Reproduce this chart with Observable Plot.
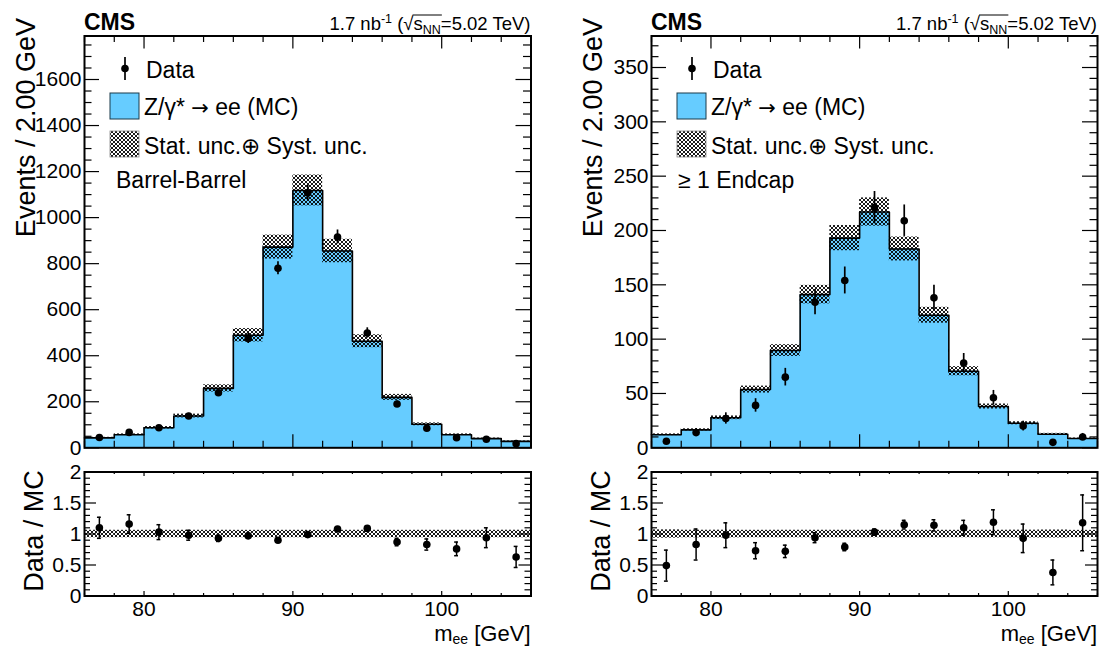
<!DOCTYPE html>
<html><head><meta charset="utf-8">
<script src="https://cdn.jsdelivr.net/npm/d3@7"></script>
<script src="https://cdn.jsdelivr.net/npm/@observablehq/plot@0.6"></script>
<style>
body{margin:0;background:#fff;}
#wrap{position:relative;width:1102px;height:646px;overflow:hidden;font-family:"Liberation Sans",Arial,Helvetica,sans-serif;}
#wrap svg{position:absolute;left:0;top:0;}
</style></head><body><div id="wrap"></div>
<script>
// ---------- data ----------
const binLo     = [76, 78, 80, 82, 84, 86, 88, 90, 92, 94, 96, 98, 100, 102, 104];
const binHi     = [78, 80, 82, 84, 86, 88, 90, 92, 94, 96, 98, 100, 102, 104, 106];
const binCenter = [77, 79, 81, 83, 85, 87, 89, 91, 93, 95, 97, 99, 101, 103, 105];

// Barrel-Barrel
const mcBB      = [43, 57, 87, 138, 258, 489, 872, 1118, 855, 463, 219, 102, 57, 40, 28];
const mcUncBB   = [2.6, 3.4, 5.2, 8.3, 15.5, 29, 52, 67, 51, 28, 13, 6.1, 3.4, 2.4, 1.7];
const dataBB    = [45, 67, 87, 138, 239, 475, 780, 1107, 916, 499, 190, 85, 44, 37, 18];
const dataErrBB = [6.7, 8.2, 9.3, 11.7, 15.5, 21.8, 27.9, 33.3, 30.3, 22.3, 13.8, 9.2, 6.6, 6.1, 4.2];
const ratioBB   = [1.10, 1.16, 1.03, 0.98, 0.93, 0.97, 0.90, 0.99, 1.08, 1.09, 0.87, 0.83, 0.76, 0.94, 0.63];
const ratioErrBB= [0.17, 0.15, 0.12, 0.08, 0.05, 0.04, 0.03, 0.03, 0.03, 0.04, 0.06, 0.09, 0.11, 0.16, 0.17];

// >= 1 Endcap
const mcEE      = [12, 16.5, 27.6, 53.6, 89.5, 141, 193, 217, 183, 122, 70.5, 38, 22.6, 12.5, 8.5];
const mcUncEE   = [0.8, 1.0, 1.7, 3.2, 5.4, 8.5, 11.6, 13, 11, 7.3, 4.2, 2.3, 1.4, 0.8, 0.5];
const dataEE    = [6, 14, 27, 39, 65, 134, 154, 221, 209, 138, 78, 46, 20, 5, 10];
const dataErrEE = [2.4, 3.7, 5.2, 6.2, 8.1, 11.6, 12.4, 14.9, 14.5, 11.7, 8.8, 6.8, 4.5, 2.2, 3.2];
const ratioEE   = [0.49, 0.83, 0.98, 0.73, 0.72, 0.94, 0.79, 1.03, 1.15, 1.14, 1.10, 1.19, 0.93, 0.38, 1.18];
const ratioErrEE= [0.25, 0.25, 0.20, 0.13, 0.10, 0.08, 0.06, 0.05, 0.07, 0.09, 0.12, 0.20, 0.23, 0.20, 0.45];

// axis ticks
const xMajor = [80, 90, 100];
const xMinor = [76, 78, 82, 84, 86, 88, 92, 94, 96, 98, 102, 104, 106];
const yTicksBB = [0, 200, 400, 600, 800, 1000, 1200, 1400, 1600];
const yTicksEE = [0, 50, 100, 150, 200, 250, 300, 350];
const rTicks = [0, 0.5, 1, 1.5, 2];

// ---------- layout ----------
const W = 1102, H = 646;
const XL = [84, 530.5], XR = [651, 1097];
const YMAIN = [35.5, 447.3], YRAT = [471.5, 595.5];
const FONT = '"Liberation Sans", Arial, Helvetica, sans-serif';
const BLUE = "#66ccff";

const bins = (mc, unc, data, err, ratio, rerr) => binLo.map((lo, i) => ({
  lo, hi: binHi[i], c: binCenter[i], mc: mc[i], unc: unc[i], data: data[i], err: err[i],
  ratio: ratio[i], rerr: rerr[i], rel: unc[i] / mc[i]
}));
const stepPts = (mc) => binLo.map((lo, i) => ({x: lo, y: mc[i]})).concat([{x: binHi[binHi.length - 1], y: mc[mc.length - 1]}]);

function tickMarks(xr, yr, xMaj, xMin, xMajLen, xMinLen, yMaj, yMin, yMajLen, yMinLen) {
  const iw = xr[1] - xr[0], ih = yr[1] - yr[0];
  const s = {stroke: "black", strokeWidth: 1.2};
  return [
    Plot.tickX(xMaj, {x: d => d, insetTop: ih - xMajLen, ...s}),
    Plot.tickX(xMaj, {x: d => d, insetBottom: ih - xMajLen, ...s}),
    Plot.tickX(xMin, {x: d => d, insetTop: ih - xMinLen, ...s}),
    Plot.tickX(xMin, {x: d => d, insetBottom: ih - xMinLen, ...s}),
    Plot.tickY(yMaj, {y: d => d, insetRight: iw - yMajLen, ...s}),
    Plot.tickY(yMaj, {y: d => d, insetLeft: iw - yMajLen, ...s}),
    Plot.tickY(yMin, {y: d => d, insetRight: iw - yMinLen, ...s}),
    Plot.tickY(yMin, {y: d => d, insetLeft: iw - yMinLen, ...s})
  ];
}

function frameOpts(xr, yr) {
  return {
    width: W, height: H,
    marginLeft: xr[0], marginRight: W - xr[1], marginTop: yr[0], marginBottom: H - yr[1],
    style: {fontFamily: FONT, fontSize: "21px", background: "transparent", color: "black", overflow: "visible"}
  };
}

function mainPanel(xr, b, mc, ymax, yMaj, yMinStep) {
  const yMin = d3.range(0, ymax, yMinStep).filter(v => !yMaj.includes(v));
  return Plot.plot({
    ...frameOpts(xr, YMAIN),
    x: {domain: [76, 106], axis: null, label: null},
    y: {domain: [0, ymax], label: null},
    marks: [
      Plot.areaY(stepPts(mc), {x: "x", y: "y", curve: "step-after", fill: BLUE}),
      Plot.line(stepPts(mc), {x: "x", y: "y", curve: "step-after", stroke: "black", strokeWidth: 1.6}),
      Plot.rect(b, {x1: "lo", x2: "hi", y1: d => d.mc - d.unc, y2: d => d.mc + d.unc, fill: "url(#hatch)"}),
      Plot.ruleX(b, {x: "c", y1: d => d.data - d.err, y2: d => d.data + d.err, stroke: "black", strokeWidth: 1.7}),
      Plot.dot(b, {x: "c", y: "data", r: 3.8, fill: "black"}),
      ...tickMarks(xr, YMAIN, xMajor, xMinor, 13, 6.5, yMaj, yMin, 15, 7.5),
      Plot.frame({stroke: "black", strokeWidth: 2}),
      Plot.axisY(yMaj, {tickSize: 0, tickPadding: 3, fontSize: 21, label: null, tickFormat: d => String(d)})
    ]
  });
}

function ratioPanel(xr, b) {
  const rMin = d3.range(0, 2, 0.1).map(v => Math.round(v * 10) / 10).filter(v => !rTicks.includes(v));
  return Plot.plot({
    ...frameOpts(xr, YRAT),
    x: {domain: [76, 106], label: null},
    y: {domain: [0, 2], label: null},
    marks: [
      Plot.rect(b, {x1: "lo", x2: "hi", y1: d => 1 - d.rel, y2: d => 1 + d.rel, fill: "url(#hatch)"}),
      Plot.ruleX(b, {x: "c", y1: d => d.ratio - d.rerr, y2: d => d.ratio + d.rerr, stroke: "black", strokeWidth: 1.5}),
      Plot.ruleY(b, {x1: d => d.c - 0.13, x2: d => d.c + 0.13, y: d => d.ratio + d.rerr, stroke: "black", strokeWidth: 1.5}),
      Plot.ruleY(b, {x1: d => d.c - 0.13, x2: d => d.c + 0.13, y: d => d.ratio - d.rerr, stroke: "black", strokeWidth: 1.5}),
      Plot.dot(b, {x: "c", y: "ratio", r: 3.8, fill: "black"}),
      ...tickMarks(xr, YRAT, xMajor, xMinor, 4.5, 2.5, rTicks, rMin, 12, 6),
      Plot.frame({stroke: "black", strokeWidth: 2}),
      Plot.axisY(rTicks, {tickSize: 0, tickPadding: 3, fontSize: 21, label: null, tickFormat: d => String(d)}),
      Plot.axisX(xMajor, {tickSize: 0, tickPadding: 5, fontSize: 21, label: null, tickFormat: d => String(d)})
    ]
  });
}

const wrap = document.getElementById("wrap");
const bBB = bins(mcBB, mcUncBB, dataBB, dataErrBB, ratioBB, ratioErrBB);
const bEE = bins(mcEE, mcUncEE, dataEE, dataErrEE, ratioEE, ratioErrEE);
wrap.appendChild(mainPanel(XL, bBB, mcBB, 1789, yTicksBB, 50));
wrap.appendChild(ratioPanel(XL, bBB));
wrap.appendChild(mainPanel(XR, bEE, mcEE, 379, yTicksEE, 10));
wrap.appendChild(ratioPanel(XR, bEE));

// ---------- overlay: titles, legends, hatch pattern ----------
function panelText(x0, x1, label, idx) {
  const yt = x0 - 49, rt = x0 - 41;
  return `
  <text x="${x0}" y="30" font-size="23" font-weight="bold">CMS</text>
  <text id="lumi${idx}" x="${x1}" y="30" text-anchor="end" font-size="18.5">1.7 nb<tspan dy="-7" font-size="12.5">-1</tspan><tspan dy="7"> (√</tspan><tspan id="s${idx}">s</tspan><tspan id="nn${idx}" dy="4" font-size="12.5">NN</tspan><tspan dy="-4">=5.02 TeV)</tspan></text>
  <text transform="translate(${yt},18) rotate(-90)" text-anchor="end" font-size="27">Events / 2.00 GeV</text>
  <text transform="translate(${rt},531) rotate(-90)" text-anchor="middle" font-size="27">Data / MC</text>
  <text x="${x1}" y="641" text-anchor="end" font-size="22">m<tspan dy="3" font-size="14">ee</tspan><tspan dy="-3"> [GeV]</tspan></text>
  <line x1="${x0 + 41}" x2="${x0 + 41}" y1="57" y2="80" stroke="black" stroke-width="1.7"/>
  <circle cx="${x0 + 41}" cy="68.5" r="3.8" fill="black"/>
  <text x="${x0 + 62}" y="78" font-size="23">Data</text>
  <rect x="${x0 + 26}" y="93" width="29" height="26" fill="${BLUE}" stroke="#1a3a4a" stroke-width="1"/>
  <text x="${x0 + 60}" y="115" font-size="23">Z/γ* <tspan font-family="DejaVu Sans" font-size="21">→</tspan> ee (MC)</text>
  <rect x="${x0 + 26}" y="131" width="29" height="26" fill="url(#hatch)" stroke="#888" stroke-width="0.8"/>
  <text x="${x0 + 60}" y="154" font-size="23">Stat. unc.⊕ Syst. unc.</text>
  <text x="${x0 + (idx === 0 ? 32 : 27)}" y="188" font-size="23">${label}</text>`;
}
const ov = document.createElementNS("http://www.w3.org/2000/svg", "svg");
ov.setAttribute("width", W); ov.setAttribute("height", H);
ov.setAttribute("font-family", FONT);
ov.innerHTML = `<defs><pattern id="hatch" patternUnits="userSpaceOnUse" width="4" height="4">
  <path d="M0,0 L4,4 M4,0 L0,4 M-1,3 L1,5 M3,-1 L5,1 M-1,1 L1,-1 M3,5 L5,3" stroke="black" stroke-width="0.9" fill="none"/></pattern></defs>`
  + panelText(XL[0], XL[1], "Barrel-Barrel", 0)
  + panelText(XR[0], XR[1], "≥ 1 Endcap", 1);
wrap.appendChild(ov);
// overline over s_NN
[0, 1].forEach(i => {
  const s = ov.querySelector("#s" + i), nn = ov.querySelector("#nn" + i);
  try {
    const xa = s.getStartPositionOfChar(0).x, xb = nn.getEndPositionOfChar(1).x;
    const l = document.createElementNS("http://www.w3.org/2000/svg", "line");
    l.setAttribute("x1", xa - 1); l.setAttribute("x2", xb + 1);
    l.setAttribute("y1", 15); l.setAttribute("y2", 15);
    l.setAttribute("stroke", "black"); l.setAttribute("stroke-width", "1");
    ov.appendChild(l);
  } catch (e) {}
});
</script></body></html>
